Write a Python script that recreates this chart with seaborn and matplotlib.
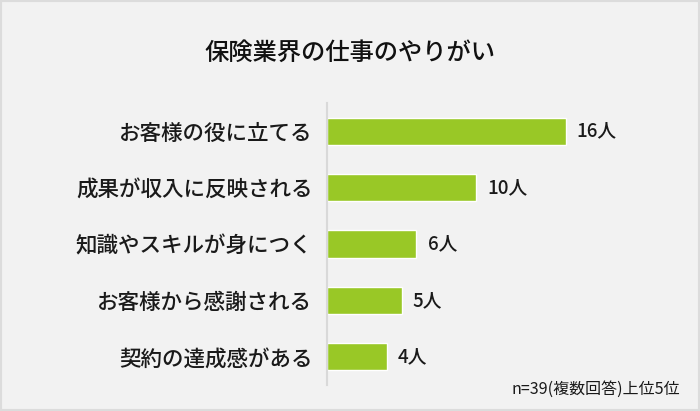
import matplotlib
matplotlib.use("Agg")
import matplotlib.pyplot as plt
import seaborn as sns
import pandas as pd
from matplotlib.patches import Rectangle

categories = ["お客様の役に立てる", "成果が収入に反映される", "知識やスキルが身につく",
              "お客様から感謝される", "契約の達成感がある"]
counts = [16, 10, 6, 5, 4]
value_labels = [f"{v}人" for v in counts]

df = pd.DataFrame({"item": categories, "count": counts})

sns.set_theme(style="white")
plt.rcParams["font.family"] = ["Noto Sans CJK JP", "DejaVu Sans"]

BG = "#F2F2F2"
fig = plt.figure(figsize=(7, 4.11), dpi=100, facecolor=BG)
ax = fig.add_axes([0.467, 0.0633, 0.469, 0.686])
ax.set_facecolor(BG)

sns.barplot(data=df, x="count", y="item", color="#99C826", width=0.48,
            saturation=1, ax=ax)

ax.set_xlim(0, 22)
ax.set_ylim(4.5, -0.5)
ax.set_xlabel("")
ax.set_ylabel("")
ax.set_xticks([])
for s in ["top", "right", "bottom"]:
    ax.spines[s].set_visible(False)
ax.spines["left"].set_color("#D9D9D9")
ax.spines["left"].set_linewidth(1.5)
ax.tick_params(axis="y", length=0, pad=10.5, labelsize=15.5, labelcolor="#1A1A1A")
for t in ax.get_yticklabels():
    t.set_fontweight("medium")

for i, (v, lab) in enumerate(zip(counts, value_labels)):
    ax.annotate(lab, (v, i), xytext=(8, 0), textcoords="offset points",
                va="center", ha="left", fontsize=13.5, color="#1A1A1A",
                fontweight="medium")

fig.text(0.5, 0.872, "保険業界の仕事のやりがい", ha="center", va="center",
         fontsize=17.5, color="#111111", fontweight="medium")
fig.text(0.971, 0.052, "n=39(複数回答)上位5位", ha="right", va="center",
         fontsize=11.5, color="#1A1A1A")

fig.patches.append(Rectangle((0, 0), 1, 1, transform=fig.transFigure,
                             fill=False, edgecolor="#DCDCDC", linewidth=3,
                             zorder=10))

fig.savefig("out.png", dpi=100, facecolor=BG)
